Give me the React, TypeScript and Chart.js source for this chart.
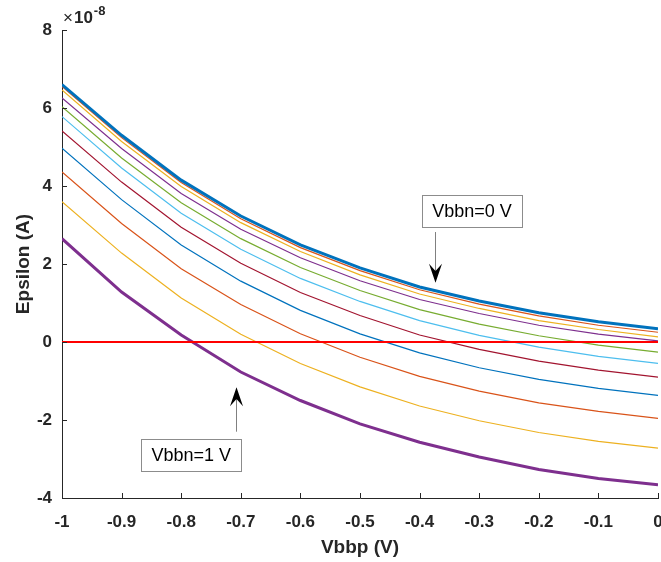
import React, { useEffect, useRef } from 'react';
import { Chart, registerables } from 'chart.js';

Chart.register(...registerables);

// Vbbp (V)
const xValues = [-1, -0.9, -0.8, -0.7, -0.6, -0.5, -0.4, -0.3, -0.2, -0.1, 0];
const xTicks = [-1, -0.9, -0.8, -0.7, -0.6, -0.5, -0.4, -0.3, -0.2, -0.1, 0];
const yTicks = [-4, -2, 0, 2, 4, 6, 8];

// Epsilon (A), in units of 1e-8, one array per Vbbn value
const epsVbbn00 = [6.6, 5.3, 4.15, 3.23, 2.49, 1.9, 1.41, 1.05, 0.75, 0.52, 0.34];
const epsVbbn01 = [6.55, 5.24, 4.09, 3.16, 2.42, 1.83, 1.34, 0.97, 0.67, 0.43, 0.25];
const epsVbbn02 = [6.46, 5.14, 3.99, 3.06, 2.32, 1.72, 1.23, 0.86, 0.55, 0.32, 0.13];
const epsVbbn03 = [6.26, 4.96, 3.81, 2.89, 2.16, 1.57, 1.09, 0.73, 0.43, 0.2, 0.03];
const epsVbbn04 = [6.03, 4.72, 3.57, 2.65, 1.91, 1.32, 0.83, 0.46, 0.16, -0.08, -0.26];
const epsVbbn05 = [5.78, 4.46, 3.3, 2.38, 1.63, 1.04, 0.55, 0.17, -0.13, -0.37, -0.55];
const epsVbbn06 = [5.41, 4.1, 2.94, 2.02, 1.27, 0.68, 0.18, -0.19, -0.49, -0.72, -0.9];
const epsVbbn07 = [4.97, 3.65, 2.49, 1.56, 0.81, 0.21, -0.28, -0.66, -0.96, -1.19, -1.37];
const epsVbbn08 = [4.36, 3.04, 1.88, 0.96, 0.21, -0.39, -0.88, -1.26, -1.56, -1.78, -1.96];
const epsVbbn09 = [3.6, 2.28, 1.13, 0.2, -0.55, -1.15, -1.64, -2.02, -2.32, -2.55, -2.72];
const epsVbbn10 = [2.65, 1.28, 0.18, -0.77, -1.5, -2.1, -2.57, -2.95, -3.27, -3.5, -3.66];

const seriesNames = ['Vbbn=0', 'Vbbn=0.1', 'Vbbn=0.2', 'Vbbn=0.3', 'Vbbn=0.4', 'Vbbn=0.5', 'Vbbn=0.6', 'Vbbn=0.7', 'Vbbn=0.8', 'Vbbn=0.9', 'Vbbn=1'];
const seriesValues = [epsVbbn00, epsVbbn01, epsVbbn02, epsVbbn03, epsVbbn04, epsVbbn05, epsVbbn06, epsVbbn07, epsVbbn08, epsVbbn09, epsVbbn10];
const seriesColors = ['#0072BD', '#D95319', '#EDB120', '#7E2F8E', '#77AC30', '#4DBEEE', '#A2142F', '#0072BD', '#D95319', '#EDB120', '#7E2F8E'];
const seriesWidths = [3, 1.2, 1.2, 1.2, 1.2, 1.2, 1.2, 1.2, 1.2, 1.2, 3];

const zeroLineX = [-1, 0];
const zeroLineY = [0, 0];

// annotations: text box centre and arrow (tail -> tip), in data coordinates
const annotations = [
  { text: 'Vbbn=0 V', boxX: -0.312, boxY: 3.35, arrowX: -0.374, tailY: 2.82, tipY: 1.52 },
  { text: 'Vbbn=1 V', boxX: -0.783, boxY: -2.9, arrowX: -0.708, tailY: -2.3, tipY: -1.16 },
];

const FONT = '"Liberation Sans", Arial, Helvetica, sans-serif';
const AXIS_COLOR = '#262626';

const decorPlugin = {
  id: 'decor',
  afterDatasetsDraw(chart: any) {
    const { ctx, chartArea } = chart;
    const x = chart.scales.x;
    const y = chart.scales.y;
    ctx.save();
    // inward ticks
    ctx.strokeStyle = AXIS_COLOR;
    ctx.lineWidth = 1;
    for (const t of x.ticks) {
      const px = Math.round(x.getPixelForValue(t.value)) + 0.5;
      ctx.beginPath();
      ctx.moveTo(px, chartArea.bottom);
      ctx.lineTo(px, chartArea.bottom - 5);
      ctx.stroke();
    }
    for (const t of y.ticks) {
      const py = Math.round(y.getPixelForValue(t.value)) + 0.5;
      ctx.beginPath();
      ctx.moveTo(chartArea.left, py);
      ctx.lineTo(chartArea.left + 5, py);
      ctx.stroke();
    }
    // annotations
    for (const a of annotations) {
      const ax = Math.round(x.getPixelForValue(a.arrowX)) + 0.5;
      const tail = y.getPixelForValue(a.tailY);
      const tip = y.getPixelForValue(a.tipY);
      const dir = tip > tail ? 1 : -1;
      const L = 19;
      const w = 6.5;
      ctx.strokeStyle = '#808080';
      ctx.lineWidth = 1;
      ctx.beginPath();
      ctx.moveTo(ax, tail);
      ctx.lineTo(ax, tip - dir * L * 0.6);
      ctx.stroke();
      ctx.fillStyle = '#000000';
      ctx.beginPath();
      ctx.moveTo(ax, tip);
      ctx.lineTo(ax - w, tip - dir * L);
      ctx.lineTo(ax, tip - dir * L * 0.62);
      ctx.lineTo(ax + w, tip - dir * L);
      ctx.closePath();
      ctx.fill();

      const bx = x.getPixelForValue(a.boxX);
      const by = y.getPixelForValue(a.boxY);
      const bw = 100;
      const bh = 32;
      const left = Math.round(bx - bw / 2) + 0.5;
      const top = Math.round(by - bh / 2) + 0.5;
      ctx.fillStyle = '#ffffff';
      ctx.fillRect(left, top, bw, bh);
      ctx.strokeStyle = '#8c8c8c';
      ctx.strokeRect(left, top, bw, bh);
      ctx.fillStyle = '#000000';
      ctx.font = `18px ${FONT}`;
      ctx.textAlign = 'center';
      ctx.textBaseline = 'middle';
      ctx.fillText(a.text, bx, by + 1);
    }
    // exponent label
    ctx.fillStyle = AXIS_COLOR;
    ctx.textAlign = 'left';
    ctx.textBaseline = 'alphabetic';
    const ex = chartArea.left + 1;
    const ey = chartArea.top - 7;
    ctx.font = `17px ${FONT}`;
    ctx.fillText('×', ex, ey);
    const wx = ctx.measureText('×').width;
    ctx.font = `bold 17px ${FONT}`;
    ctx.fillText('10', ex + wx + 1, ey);
    const w10 = ctx.measureText('10').width;
    ctx.font = `bold 13px ${FONT}`;
    ctx.fillText('-8', ex + wx + w10 + 2, ey - 8);
    ctx.restore();
  },
};

export default function App() {
  const canvasRef = useRef<HTMLCanvasElement | null>(null);

  useEffect(() => {
    document.body.style.margin = '0';
    const canvas = canvasRef.current;
    if (!canvas) return;

    const datasets: any[] = [
      {
        label: 'zero',
        data: zeroLineX.map((v, i) => ({ x: v, y: zeroLineY[i] })),
        borderColor: '#FF0000',
        borderWidth: 1.8,
        pointRadius: 0,
        fill: false,
      },
    ];
    seriesValues.forEach((vals, i) => {
      datasets.push({
        label: seriesNames[i],
        data: xValues.map((v, j) => ({ x: v, y: vals[j] })),
        borderColor: seriesColors[i],
        borderWidth: seriesWidths[i],
        pointRadius: 0,
        fill: false,
        tension: 0,
      });
    });

    const chart = new Chart(canvas, {
      type: 'line',
      data: { datasets },
      plugins: [decorPlugin],
      options: {
        responsive: false,
        animation: false,
        devicePixelRatio: 1,
        layout: { padding: { left: 12, top: 30, right: 3, bottom: 3 } },
        plugins: {
          legend: { display: false },
          tooltip: { enabled: false },
        },
        scales: {
          x: {
            type: 'linear',
            min: -1,
            max: 0,
            afterBuildTicks: (scale: any) => {
              scale.ticks = xTicks.map((v) => ({ value: v }));
            },
            afterFit: (scale: any) => {
              scale.height = 61;
              scale.paddingLeft = 0;
              scale.paddingRight = 0;
            },
            grid: { display: true, drawOnChartArea: false, drawTicks: false },
            border: { display: true, color: AXIS_COLOR, width: 1 },
            ticks: {
              autoSkip: false,
              maxRotation: 0,
              padding: 14,
              color: AXIS_COLOR,
              font: { family: FONT, size: 17, weight: 'bold' },
              callback: (v: any) => String(Math.round(Number(v) * 10) / 10),
            },
            title: {
              display: true,
              text: 'Vbbp (V)',
              color: AXIS_COLOR,
              padding: 0,
              font: { family: FONT, size: 19, weight: 'bold' },
            },
          },
          y: {
            type: 'linear',
            min: -4,
            max: 8,
            afterBuildTicks: (scale: any) => {
              scale.ticks = yTicks.map((v) => ({ value: v }));
            },
            afterFit: (scale: any) => {
              scale.width = 50;
              scale.paddingTop = 0;
              scale.paddingBottom = 0;
            },
            grid: { display: true, drawOnChartArea: false, drawTicks: false },
            border: { display: true, color: AXIS_COLOR, width: 1 },
            ticks: {
              autoSkip: false,
              padding: 10,
              color: AXIS_COLOR,
              font: { family: FONT, size: 17, weight: 'bold' },
              callback: (v: any) => String(v),
            },
            title: {
              display: true,
              text: 'Epsilon (A)',
              color: AXIS_COLOR,
              padding: 0,
              font: { family: FONT, size: 19, weight: 'bold' },
            },
          },
        },
      },
    });

    return () => {
      chart.destroy();
    };
  }, []);

  return (
    <canvas ref={canvasRef} width={661} height={562} style={{ display: 'block' }} />
  );
}
